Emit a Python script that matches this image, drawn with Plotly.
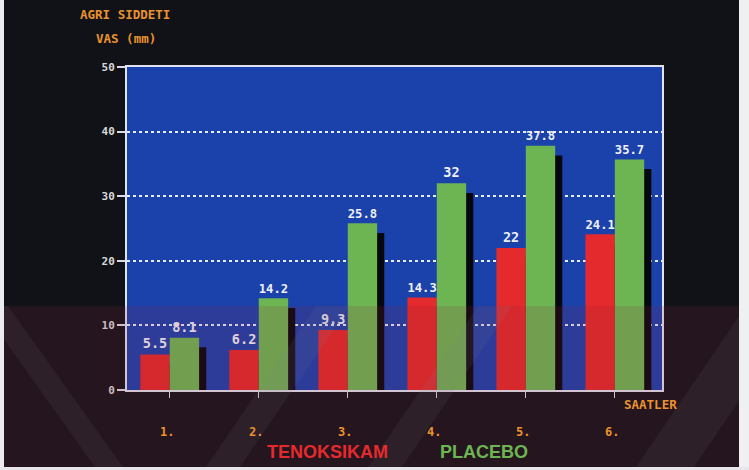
import plotly.graph_objects as go

hours = [1, 2, 3, 4, 5, 6]
hour_labels = ["1.", "2.", "3.", "4.", "5.", "6."]
tenoksikam = [5.5, 6.2, 9.3, 14.3, 22, 24.1]
placebo = [8.1, 14.2, 25.8, 32, 37.8, 35.7]
y_ticks = [0, 10, 20, 30, 40, 50]

W, H = 749, 470
L, R, T, B = 127, 662, 67, 390

def px_x(p):
    return (p - L) / (R - L)

def px_y(p):
    return (B - p) / (B - T)

RED = "#e42a2c"
GREEN = "#6db553"
BLUE = "#1b41aa"
ORANGE = "#ea922e"
MONO = "DejaVu Sans Mono"
BOLD_SANS = "Liberation Sans"

bw = 0.33
shift = 0.08
drop = 1.5

fig = go.Figure()
# shadows
fig.add_trace(go.Bar(x=hours, y=[v - drop for v in tenoksikam], width=bw, offset=-bw + shift,
                     marker=dict(color="#06070e", line=dict(width=0)), hoverinfo="skip", showlegend=False))
fig.add_trace(go.Bar(x=hours, y=[v - drop for v in placebo], width=bw, offset=shift,
                     marker=dict(color="#06070e", line=dict(width=0)), hoverinfo="skip", showlegend=False))
# bars
fig.add_trace(go.Bar(x=hours, y=tenoksikam, width=bw, offset=-bw, name="TENOKSIKAM",
                     marker=dict(color=RED, line=dict(width=0)),
                     text=[f"<b>{v}</b>" for v in tenoksikam], textposition="outside",
                     textfont=dict(family=MONO, size=13.5, color="#eef0f8"), cliponaxis=False))
fig.add_trace(go.Bar(x=hours, y=placebo, width=bw, offset=0, name="PLACEBO",
                     marker=dict(color=GREEN, line=dict(width=0)),
                     text=[f"<b>{v}</b>" for v in placebo], textposition="outside",
                     textfont=dict(family=MONO, size=13.5, color="#eef0f8"), cliponaxis=False))

annotations = []
for h, lab in zip(hours, hour_labels):
    annotations.append(dict(x=h - 0.03, y=px_y(432), xref="x", yref="paper", text=f"<b>{lab}</b>", showarrow=False,
                            font=dict(family=MONO, size=12, color=ORANGE), xanchor="center", yanchor="middle"))
annotations += [
    dict(x=px_x(78), y=px_y(15), xref="paper", yref="paper", text="<b>AGRI SIDDETI</b>", showarrow=False,
         font=dict(family=MONO, size=12.5, color=ORANGE), xanchor="left", yanchor="middle"),
    dict(x=px_x(94), y=px_y(38), xref="paper", yref="paper", text="<b>VAS (mm)</b>", showarrow=False,
         font=dict(family=MONO, size=12.5, color=ORANGE), xanchor="left", yanchor="middle"),
    dict(x=px_x(650), y=px_y(404), xref="paper", yref="paper", text="<b>SAATLER</b>", showarrow=False,
         font=dict(family=MONO, size=12.5, color=ORANGE), xanchor="center", yanchor="middle"),
    dict(x=px_x(327), y=px_y(452), xref="paper", yref="paper", text="<b>TENOKSIKAM</b>", showarrow=False,
         font=dict(family=BOLD_SANS, size=18, color=RED), xanchor="center", yanchor="middle"),
    dict(x=px_x(484), y=px_y(452), xref="paper", yref="paper", text="<b>PLACEBO</b>", showarrow=False,
         font=dict(family=BOLD_SANS, size=18, color=GREEN), xanchor="center", yanchor="middle"),
]

def poly(points):
    d = "M " + " L ".join(f"{px_x(x):.4f},{px_y(y):.4f}" for x, y in points) + " Z"
    return d

shapes = [
    # reddish tint of the lower part of the photo
    dict(type="rect", xref="paper", yref="paper", x0=px_x(0), x1=px_x(W), y0=px_y(306), y1=px_y(H),
         fillcolor="rgba(140,40,60,0.16)", line=dict(width=0), layer="above"),
]
for pts in [
    [(-20, 306), (8, 306), (123, 467), (95, 467)],
    [(316, 306), (350, 306), (240, 467), (206, 467)],
    [(478, 306), (512, 306), (402, 467), (368, 467)],
    [(746, 306), (804, 306), (694, 467), (636, 467)],
]:
    shapes.append(dict(type="path", xref="paper", yref="paper", path=poly(pts),
                       fillcolor="rgba(120,140,150,0.10)", line=dict(width=0), layer="above"))
# light edges of the slide mount
shapes += [
    dict(type="rect", xref="paper", yref="paper", x0=px_x(0), x1=px_x(4), y0=px_y(0), y1=px_y(H),
         fillcolor="#ecebee", line=dict(width=0), layer="above"),
    dict(type="rect", xref="paper", yref="paper", x0=px_x(739), x1=px_x(W), y0=px_y(0), y1=px_y(H),
         fillcolor="#eef0f2", line=dict(width=0), layer="above"),
    dict(type="rect", xref="paper", yref="paper", x0=px_x(0), x1=px_x(W), y0=px_y(467), y1=px_y(H),
         fillcolor="#e8e6ea", line=dict(width=0), layer="above"),
]

fig.update_layout(
    width=W, height=H,
    margin=dict(l=L, r=W - R, t=T, b=H - B, pad=0),
    paper_bgcolor="#111218", plot_bgcolor=BLUE,
    barmode="overlay", showlegend=False,
    annotations=annotations, shapes=shapes,
    xaxis=dict(range=[0.52, 6.53], tickvals=hours, showticklabels=False, ticks="outside",
               ticklen=6, tickcolor="#d8dce8", showgrid=False, zeroline=False,
               showline=True, linecolor="#dfe3ee", linewidth=2, mirror=True),
    yaxis=dict(range=[0, 50], tickvals=y_ticks, ticktext=[f"<b>{v}</b>" for v in y_ticks],
               ticks="outside", ticklen=8, tickcolor="#d8dce8", tickwidth=1.5,
               tickfont=dict(family=MONO, size=11, color="#d8d8d8"),
               showgrid=True, gridcolor="#e8ecf8", griddash="dot", gridwidth=1.5,
               zeroline=False, showline=True, linecolor="#dfe3ee", linewidth=2, mirror=True),
)

fig.write_html("out.html")
